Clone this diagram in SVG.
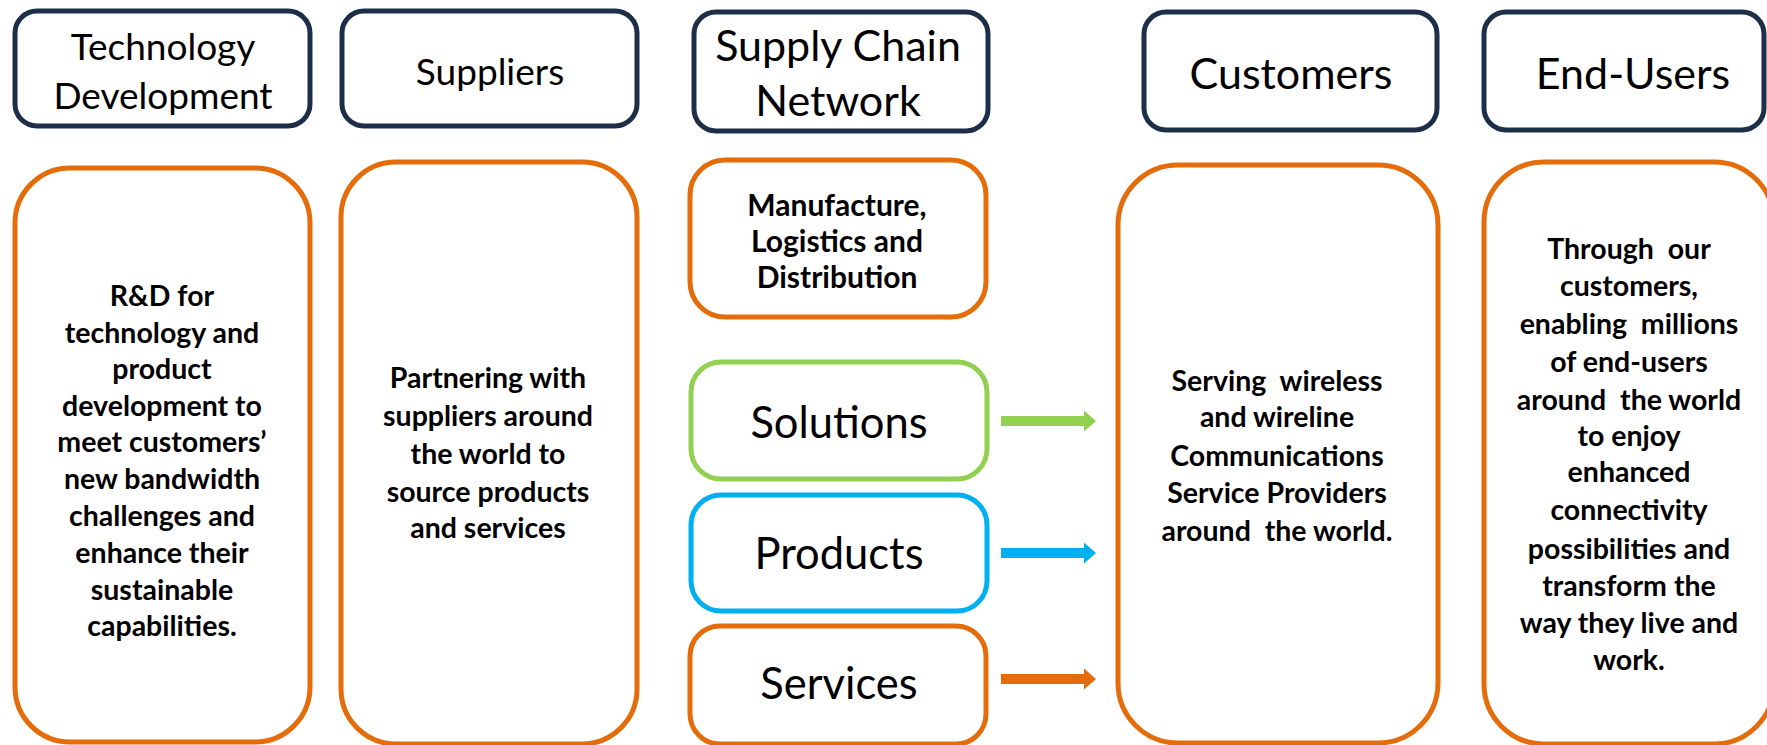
<svg xmlns="http://www.w3.org/2000/svg" width="1767" height="745" viewBox="0 0 1767 745">
  <defs>
    <style>
      .hdr { fill: #ffffff; stroke: #1c2e48; stroke-width: 5; }
      .org { fill: #ffffff; stroke: #e46c0a; stroke-width: 5; }
      .grn { fill: #ffffff; stroke: #92d050; stroke-width: 5; }
      .blu { fill: #ffffff; stroke: #00b0f0; stroke-width: 5; }
      .htxt { font-family: Lato, "Open Sans", sans-serif; font-size: 37px; fill: #000; text-anchor: middle; dominant-baseline: central; }
      .hbig { font-size: 43px; }
      .btxt { font-family: Lato, "Open Sans", sans-serif; font-weight: bold; font-size: 28.5px; fill: #000; text-anchor: middle; dominant-baseline: central; }
      .mtxt { font-size: 30px; }
      .ltxt { font-family: Lato, "Open Sans", sans-serif; font-size: 43.5px; fill: #000; text-anchor: middle; dominant-baseline: central; }
    </style>
    <!-- arrowheads: 12 long, 21 tall, tip lands 10px past the shaft end -->
    <marker id="ahG" viewBox="0 0 12 21" refX="2" refY="10.5" markerWidth="12" markerHeight="21" orient="auto" markerUnits="userSpaceOnUse"><path d="M0,0 L12,10.5 L0,21 Z" fill="#92d050"/></marker>
    <marker id="ahB" viewBox="0 0 12 21" refX="2" refY="10.5" markerWidth="12" markerHeight="21" orient="auto" markerUnits="userSpaceOnUse"><path d="M0,0 L12,10.5 L0,21 Z" fill="#00b0f0"/></marker>
    <marker id="ahO" viewBox="0 0 12 21" refX="2" refY="10.5" markerWidth="12" markerHeight="21" orient="auto" markerUnits="userSpaceOnUse"><path d="M0,0 L12,10.5 L0,21 Z" fill="#e46c0a"/></marker>
  </defs>

  <rect width="1767" height="745" fill="#ffffff"/>

  <!-- column headings -->
  <g id="hdr-technology">
    <rect class="hdr" x="15" y="11" width="295" height="115" rx="22"/>
    <text class="htxt" x="163" y="45">Technology</text>
    <text class="htxt" x="163" y="94">Development</text>
  </g>
  <g id="hdr-suppliers">
    <rect class="hdr" x="342" y="11" width="295" height="115" rx="22"/>
    <text class="htxt" x="490" y="70">Suppliers</text>
  </g>
  <g id="hdr-supply-chain">
    <rect class="hdr" x="694" y="12" width="294" height="119" rx="22"/>
    <text class="htxt hbig" x="838" y="44">Supply Chain</text>
    <text class="htxt hbig" x="838" y="99">Network</text>
  </g>
  <g id="hdr-customers">
    <rect class="hdr" x="1144" y="12" width="293" height="118" rx="22"/>
    <text class="htxt hbig" x="1291" y="72">Customers</text>
  </g>
  <g id="hdr-end-users">
    <rect class="hdr" x="1484" y="12" width="280" height="118" rx="22"/>
    <text class="htxt hbig" x="1633" y="72">End-Users</text>
  </g>

  <!-- description panels -->
  <g id="panel-technology">
    <rect class="org" x="15" y="168" width="295" height="574" rx="55"/>
    <text class="btxt" x="162" y="295">R&amp;D for</text>
    <text class="btxt" x="162" y="332">technology and</text>
    <text class="btxt" x="162" y="368">product</text>
    <text class="btxt" x="162" y="405">development to</text>
    <text class="btxt" x="162" y="441">meet customers’</text>
    <text class="btxt" x="162" y="478">new bandwidth</text>
    <text class="btxt" x="162" y="515">challenges and</text>
    <text class="btxt" x="162" y="552">enhance their</text>
    <text class="btxt" x="162" y="589">sustainable</text>
    <text class="btxt" x="162" y="625">capabilities.</text>
  </g>
  <g id="panel-suppliers">
    <rect class="org" x="341" y="162" width="296" height="582" rx="55"/>
    <text class="btxt" x="488" y="377">Partnering with</text>
    <text class="btxt" x="488" y="415">suppliers around</text>
    <text class="btxt" x="488" y="453">the world to</text>
    <text class="btxt" x="488" y="491">source products</text>
    <text class="btxt" x="488" y="527">and services</text>
  </g>
  <g id="panel-manufacture">
    <rect class="org" x="690" y="160" width="296" height="157" rx="35"/>
    <text class="btxt mtxt" x="837" y="204">Manufacture,</text>
    <text class="btxt mtxt" x="837" y="240">Logistics and</text>
    <text class="btxt mtxt" x="837" y="276">Distribution</text>
  </g>
  <g id="panel-solutions">
    <rect class="grn" x="691" y="362" width="296" height="117" rx="30"/>
    <text class="ltxt" x="839" y="421">Solutions</text>
  </g>
  <g id="panel-products">
    <rect class="blu" x="691" y="495" width="296" height="116" rx="30"/>
    <text class="ltxt" x="839" y="552">Products</text>
  </g>
  <g id="panel-services">
    <rect class="org" x="690" y="626" width="296" height="118" rx="30"/>
    <text class="ltxt" x="839" y="682">Services</text>
  </g>
  <g id="panel-customers">
    <rect class="org" x="1118" y="165" width="320" height="578" rx="60"/>
    <text class="btxt" x="1277" y="380">Serving&#160; wireless</text>
    <text class="btxt" x="1277" y="416">and wireline</text>
    <text class="btxt" x="1277" y="455">Communications</text>
    <text class="btxt" x="1277" y="492">Service Providers</text>
    <text class="btxt" x="1277" y="530">around&#160; the world.</text>
  </g>
  <g id="panel-end-users">
    <rect class="org" x="1484" y="162" width="290" height="582" rx="60"/>
    <text class="btxt" x="1629" y="248">Through&#160; our</text>
    <text class="btxt" x="1629" y="285">customers,</text>
    <text class="btxt" x="1629" y="323">enabling&#160; millions</text>
    <text class="btxt" x="1629" y="361">of end-users</text>
    <text class="btxt" x="1629" y="399">around&#160; the world</text>
    <text class="btxt" x="1629" y="435">to enjoy</text>
    <text class="btxt" x="1629" y="471">enhanced</text>
    <text class="btxt" x="1629" y="509">connectivity</text>
    <text class="btxt" x="1629" y="548">possibilities and</text>
    <text class="btxt" x="1629" y="585">transform the</text>
    <text class="btxt" x="1629" y="622">way they live and</text>
    <text class="btxt" x="1629" y="659">work.</text>
  </g>

  <!-- flows into the customer panel -->
  <g id="connectors" fill="none" stroke-width="10">
    <line x1="1001" y1="421" x2="1086" y2="421" stroke="#92d050" marker-end="url(#ahG)"/>
    <line x1="1001" y1="553" x2="1086" y2="553" stroke="#00b0f0" marker-end="url(#ahB)"/>
    <line x1="1001" y1="679" x2="1086" y2="679" stroke="#e46c0a" marker-end="url(#ahO)"/>
  </g>
</svg>
